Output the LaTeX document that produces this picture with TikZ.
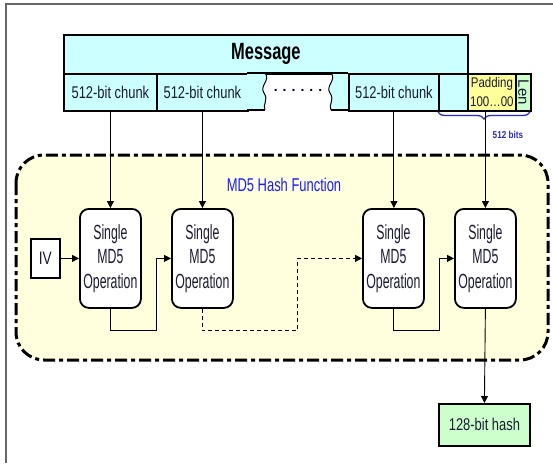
\documentclass[tikz,border=0pt]{standalone}
\usepackage{fontspec}
\setmainfont{Liberation Sans}
\newfontfamily\fA[FakeStretch=0.60]{Liberation Sans}
\newfontfamily\fB[FakeStretch=0.70]{Liberation Sans}
\newfontfamily\fC[FakeStretch=0.76]{Liberation Sans}
\newfontfamily\fD[FakeStretch=0.82]{Liberation Sans}
\usetikzlibrary{arrows.meta,calc,decorations.pathreplacing}
\definecolor{cyanfill}{HTML}{CCFFFF}
\definecolor{padfill}{HTML}{FFFF99}
\definecolor{greenfill}{HTML}{CCFFCC}
\definecolor{areafill}{HTML}{FFFFDD}
\definecolor{titleblue}{HTML}{1A1AFF}
\definecolor{braceblue}{HTML}{2828D0}
\definecolor{inktext}{HTML}{1A1A33}
\tikzset{
  cell/.style={draw, line width=1.8pt, fill=cyanfill, anchor=north west, inner sep=0pt, minimum height=37pt, text=inktext},
  opbox/.style={draw, line width=1.8pt, fill=white, rounded corners=9pt, anchor=north west, inner sep=0pt,
    minimum width=61pt, minimum height=99pt, align=center, text=inktext, font=\fA\fontsize{20.5}{24.5}\selectfont},
  arr/.style={line width=0.9pt, -{Triangle[length=7pt,width=7pt]}},
  chunktext/.style={font=\fC\fontsize{17}{18}\selectfont},
}
\begin{document}
\begin{tikzpicture}[x=1pt,y=-1pt]
\useasboundingbox (0,0) rectangle (553,463);
% outer frame
\draw[color=gray!80!black, line width=2pt] (6,463) -- (6,4) -- (553,4);

% hash function area
\draw[line width=3pt, fill=areafill, rounded corners=28pt,
      dash pattern=on 12pt off 4pt on 4pt off 4pt] (16,155) rectangle (548,360);
\node[text=titleblue, font=\fB\fontsize{18.5}{20}\selectfont] (title) at (284,185) {MD5 Hash Function};

% message
\node[cell, minimum width=404pt, minimum height=39pt, text=black, font=\fB\bfseries\fontsize{23.5}{25}\selectfont] (msg) at (63,34) {Message};
\node[cell, minimum width=93pt, chunktext] (c1) at (63,73) {512-bit chunk};
\node[cell, minimum width=91pt, chunktext] (c2) at (156,73) {512-bit chunk};
% torn stubs
\fill[cyanfill] (247,73) -- (265,73) .. controls (271,80) and (259,86) .. (264,93) .. controls (269,100) and (262,105) .. (265,110) -- (247,110) -- cycle;
\draw[line width=1.8pt] (247,73) -- (265,73);
\draw[line width=1.8pt] (247,110) -- (265,110);
\draw[line width=1pt] (265,73) .. controls (271,80) and (259,86) .. (264,93) .. controls (269,100) and (262,105) .. (265,110);
\fill[cyanfill] (348,73) -- (331,73) .. controls (337,80) and (325,86) .. (330,93) .. controls (335,100) and (328,105) .. (331,110) -- (348,110) -- cycle;
\draw[line width=1.8pt] (265,73) -- (348,73);
\draw[line width=1.8pt] (331,110) -- (348,110);
\draw[line width=1pt] (331,73) .. controls (337,80) and (325,86) .. (330,93) .. controls (335,100) and (328,105) .. (331,110);
\node[font=\bfseries\fontsize{14}{14}\selectfont, text=black!80!blue] (dots) at (298,90) {.\hspace{5pt}.\hspace{5pt}.\hspace{5pt}.\hspace{5pt}.\hspace{5pt}.};
\node[cell, minimum width=90pt, chunktext] (c3) at (348,73) {512-bit chunk};
\node[cell, minimum width=29pt] (c4) at (438,73) {};
\node[cell, minimum width=48pt, fill=padfill, align=center, font=\fD\fontsize{14}{19}\selectfont] (pad) at (467,73) {Padding\\100\ldots00};
\node[cell, minimum width=15pt, fill=greenfill] (len) at (515,73) {};
\node[rotate=-90, text=inktext, font=\fontsize{15}{15}\selectfont, inner sep=0pt] (lentext) at (len.center) {Len};

% brace
\draw[braceblue, line width=1.3pt, decorate, decoration={brace, mirror, amplitude=7pt}] (438,112) -- (530,112);
\node[text=braceblue, font=\fD\bfseries\fontsize{10}{10}\selectfont] (bits) at (508,135) {512 bits};

% operations
\node[opbox] (op1) at (79,208) {Single\\MD5\\Operation};
\node[opbox] (op2) at (171,208) {Single\\MD5\\Operation};
\node[opbox] (op3) at (362,208) {Single\\MD5\\Operation};
\node[opbox] (op4) at (454,208) {Single\\MD5\\Operation};

\node[draw, line width=1.8pt, fill=white, anchor=north west, inner sep=0pt, minimum width=29pt, minimum height=39pt,
      text=inktext, font=\fC\fontsize{18}{18}\selectfont] (iv) at (30,238) {IV};
\node[draw, line width=1.8pt, fill=greenfill, anchor=north west, inner sep=0pt, minimum width=91pt, minimum height=42pt,
      text=inktext, chunktext] (hash) at (438,403) {128-bit hash};

% arrows from chunks
\draw[arr] (c1.south) -- (c1.south |- op1.north);
\draw[arr] (c2.south) -- (c2.south |- op2.north);
\draw[arr] (c3.south) -- (c3.south |- op3.north);
\draw[arr] (op4.center |- pad.south) -- (op4.north);

% chain
\draw[arr] (iv.east) -- (op1.west);
\coordinate (j1) at ($(op1.east)!0.5!(op2.west)$);
\coordinate (j2) at ($(op2.east)!0.5!(op3.west)$);
\coordinate (j3) at ($(op3.east)!0.5!(op4.west)$);
\draw[arr] (op1.south) -- ++(0,22) -| (j1) -- (op2.west);
\draw[arr, dashed, dash pattern=on 4pt off 3pt] (op2.south) -- ++(0,22) -| (j2) -- (op3.west);
\draw[arr] (op3.south) -- ++(0,22) -| (j3) -- (op4.west);
\draw[arr] (op4.south) -- (hash.north);
\end{tikzpicture}
\end{document}
